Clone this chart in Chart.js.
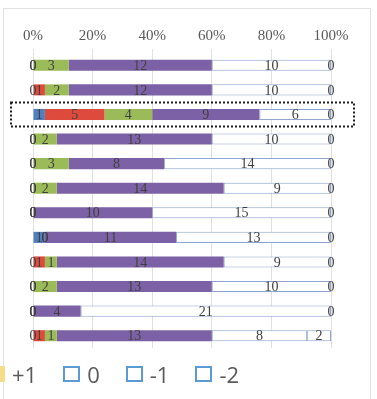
<!DOCTYPE html>
<html>
<head>
<meta charset="utf-8">
<script src="https://cdn.jsdelivr.net/npm/chart.js@4.4.0/dist/chart.umd.min.js"></script>
<style>
  html, body { margin: 0; padding: 0; background: #fff; }
  #wrap { position: relative; width: 377px; height: 399px; overflow: hidden; }
  #frame { position: absolute; left: 3px; top: 8px; width: 366px; height: 430px; border: 1px solid #e2e2e2; }
  #answers { position: absolute; left: 0; top: 0; }
  #legend { position: absolute; left: -12px; top: 362px; display: flex; align-items: center; gap: 26px;
            font-family: "Open Sans", sans-serif; font-size: 22px; color: #5a5a5a; line-height: 24px; }
  .lg_item { display: flex; align-items: center; }
  .lg_box { width: 17px; height: 16px; box-sizing: border-box; margin-right: 7px; }
</style>
</head>
<body>
<div id="wrap">
  <div id="frame"></div>
  <canvas id="answers" width="377" height="399"></canvas>
  <div id="legend"></div>
</div>
<script>
  // answer counts per question (25 answers each), one array per score
  var questions = ['1', '2', '3', '4', '5', '6', '7', '8', '9', '10', '11', '12'];
  var seriesNames = ['+3', '+2', '+1', '0', '-1', '-2'];
  var plus3  = [0, 0, 1, 0, 0, 0, 0, 1, 0, 0, 0, 0];
  var plus2  = [0, 1, 5, 0, 0, 0, 0, 0, 1, 0, 0, 1];
  var plus1  = [3, 2, 4, 2, 3, 2, 0, 0, 1, 2, 0, 1];
  var zero   = [12, 12, 9, 13, 8, 14, 10, 11, 14, 13, 4, 13];
  var minus1 = [10, 10, 6, 10, 14, 9, 15, 13, 9, 10, 21, 8];
  var minus2 = [0, 0, 0, 0, 0, 0, 0, 0, 0, 0, 0, 2];
  var xTicks = [0, 20, 40, 60, 80, 100];
  var selectedRow = 2;

  var legendNames = ['+1', '0', '-1', '-2'];

  var counts = [plus3, plus2, plus1, zero, minus1, minus2];
  var fills = ['#4f7fbd', '#de4a3c', '#9bbb59', '#7d61a6', '#ffffff', '#ffffff'];
  var edges = ['#4f7fbd', '#de4a3c', '#9bbb59', '#7d61a6', '#8fa5cf', '#8fa5cf'];

  var totals = questions.map(function (q, i) {
    var s = 0;
    for (var k = 0; k < counts.length; k++) s += counts[k][i];
    return s;
  });

  var datasets = [];
  for (var k = 0; k < counts.length; k++) {
    datasets.push({
      label: seriesNames[k],
      data: counts[k].map(function (v, i) { return v / totals[i] * 100; }),
      counts: counts[k],
      backgroundColor: fills[k],
      borderColor: edges[k],
      borderWidth: k >= 4 ? 1 : 0,
      borderSkipped: false,
      categoryPercentage: 1,
      barPercentage: 0.45
    });
  }

  // count written in the middle of every segment, zeros included
  var countLabels = {
    id: 'countLabels',
    afterDatasetsDraw: function (chart) {
      var ctx = chart.ctx;
      ctx.save();
      ctx.font = '14px "Liberation Serif", serif';
      ctx.fillStyle = '#404040';
      ctx.textAlign = 'center';
      ctx.textBaseline = 'middle';
      chart.data.datasets.forEach(function (ds, di) {
        chart.getDatasetMeta(di).data.forEach(function (bar, i) {
          var x = (bar.x + bar.base) / 2;
          ctx.fillText(String(ds.counts[i]), x, bar.y + 1);
        });
      });
      ctx.restore();
    }
  };

  // dotted box round the selected question
  var selectBox = {
    id: 'selectBox',
    afterDraw: function (chart) {
      var ctx = chart.ctx;
      var a = chart.chartArea;
      var y = chart.scales.y.getPixelForValue(selectedRow);
      ctx.save();
      ctx.setLineDash([2, 2]);
      ctx.lineWidth = 2;
      ctx.strokeStyle = '#1e1e1e';
      ctx.strokeRect(a.left - 22, y - 12, a.right - a.left + 45, 24);
      ctx.restore();
    }
  };

  new Chart(document.getElementById('answers'), {
    type: 'bar',
    data: { labels: questions, datasets: datasets },
    plugins: [countLabels, selectBox],
    options: {
      indexAxis: 'y',
      responsive: false,
      animation: false,
      devicePixelRatio: 1,
      layout: { padding: { left: 33, right: 46, top: 23, bottom: 51 } },
      plugins: { legend: { display: false }, tooltip: { enabled: false } },
      scales: {
        x: {
          position: 'top',
          stacked: true,
          min: 0,
          max: 100,
          afterBuildTicks: function (axis) {
            axis.ticks = xTicks.map(function (v) { return { value: v }; });
          },
          ticks: {
            padding: 4,
            color: '#595959',
            font: { family: '"Liberation Serif", serif', size: 15 },
            callback: function (v) { return v + '%'; }
          },
          grid: { color: '#e0e0e0', tickLength: 4 },
          border: { display: false }
        },
        y: {
          stacked: true,
          display: false
        }
      }
    }
  });

  // legend row under the chart
  var swatches = [
    { fill: '#f7dc8c', edge: '#f7dc8c' },
    { fill: '#ffffff', edge: '#5b9bd5' },
    { fill: '#ffffff', edge: '#5b9bd5' },
    { fill: '#ffffff', edge: '#5b9bd5' }
  ];
  var lg = document.getElementById('legend');
  legendNames.forEach(function (name, i) {
    var item = document.createElement('div');
    item.className = 'lg_item';
    var box = document.createElement('span');
    box.className = 'lg_box';
    box.style.background = swatches[i].fill;
    box.style.border = '2px solid ' + swatches[i].edge;
    var txt = document.createElement('span');
    txt.textContent = name;
    item.appendChild(box);
    item.appendChild(txt);
    lg.appendChild(item);
  });
</script>
</body>
</html>
